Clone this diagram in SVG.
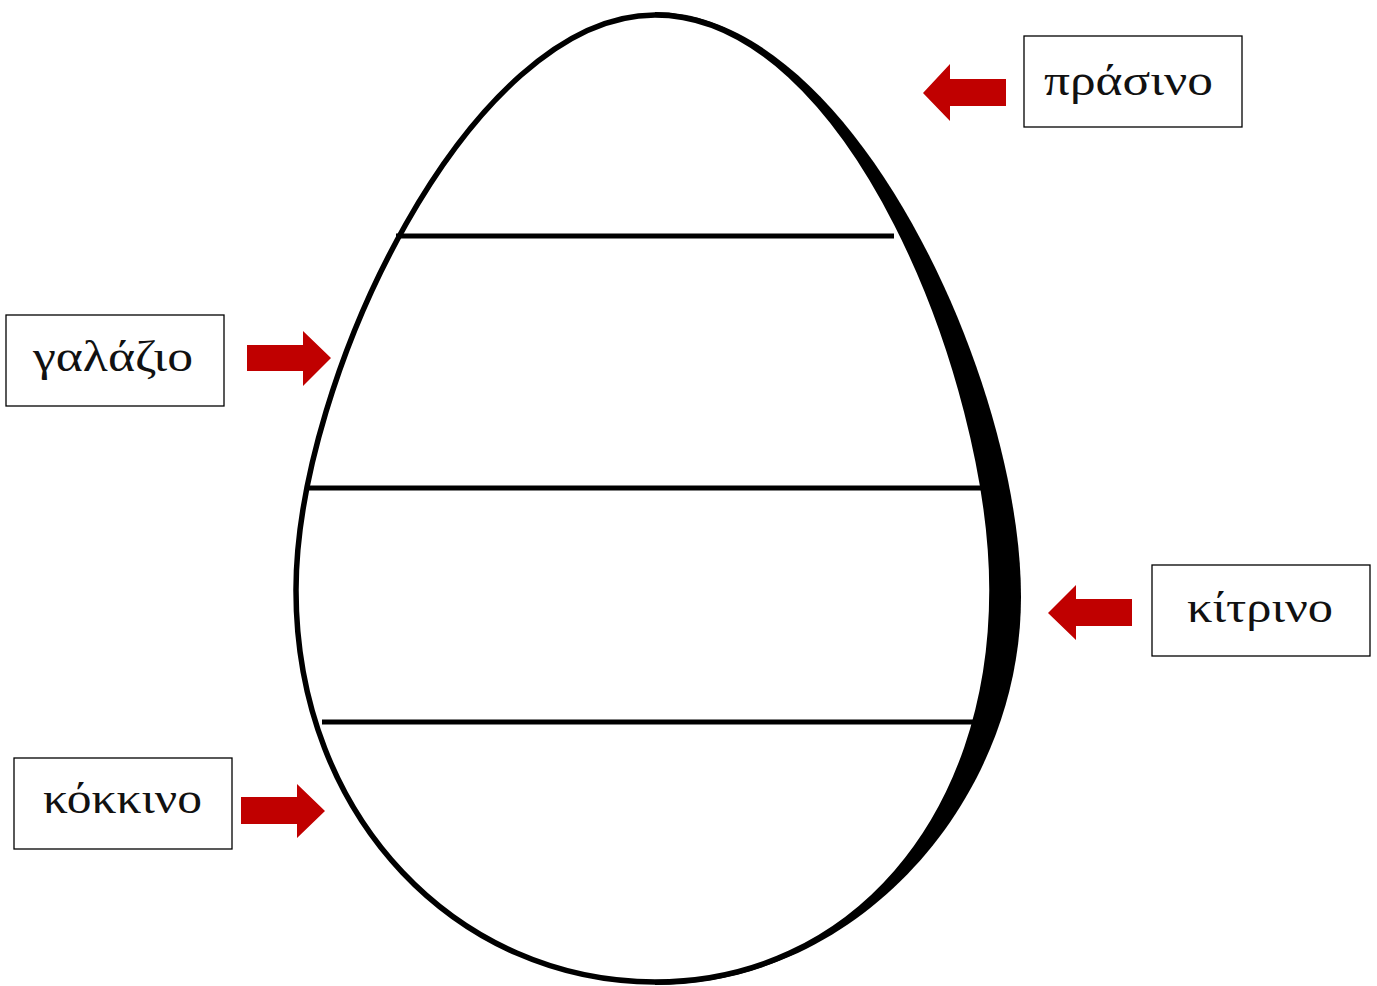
<svg xmlns="http://www.w3.org/2000/svg" width="1377" height="986" viewBox="0 0 1377 986">
<style>
.box{fill:#fff;stroke:#000;stroke-width:1.3}
.lbl{font-family:"Liberation Serif","DejaVu Serif",serif;font-size:44px;fill:#111}
.arrow{fill:#C00000}
.band{stroke:#000;stroke-width:5;fill:none}
</style>
<rect width="1377" height="986" fill="#fff"/>
<g id="egg">
<path d="M655,12 C852,12 1021,380 1021,597 C1021,800 858,985 655,985 Z" fill="#000"/>
<path d="M655,15 C470,15 296,380 296,590 C296,820 460,982 655,982 C850,982 992,820 992,590 C992,380 850,15 655,15 Z" fill="#fff" stroke="#000" stroke-width="5.5"/>
<line class="band" x1="396" y1="236" x2="894" y2="236"/>
<line class="band" x1="308" y1="488" x2="982" y2="488"/>
<line class="band" x1="322" y1="722" x2="978" y2="722"/>
</g>
<g id="connectors">
<polygon class="arrow" points="1006,79 950,79 950,64 923,93 950,121 950,106 1006,106"/>
<polygon class="arrow" points="247,345 303,345 303,331 331,358 303,386 303,371 247,371"/>
<polygon class="arrow" points="1132,599 1076,599 1076,585 1048,613 1076,640 1076,626 1132,626"/>
<polygon class="arrow" points="241,797 297,797 297,784 325,811 297,838 297,824 241,824"/>
</g>
<g id="prasino">
<rect class="box" x="1024" y="36" width="218" height="91"/>
<text class="lbl" x="1044" y="95" textLength="169" lengthAdjust="spacingAndGlyphs">πράσινο</text>
</g>
<g id="galazio">
<rect class="box" x="6" y="315" width="218" height="91"/>
<text class="lbl" x="33" y="371" textLength="160" lengthAdjust="spacingAndGlyphs">γαλάζιο</text>
</g>
<g id="kitrino">
<rect class="box" x="1152" y="565" width="218" height="91"/>
<text class="lbl" x="1187" y="622" textLength="146" lengthAdjust="spacingAndGlyphs">κίτρινο</text>
</g>
<g id="kokkino">
<rect class="box" x="14" y="758" width="218" height="91"/>
<text class="lbl" x="43" y="813" textLength="159" lengthAdjust="spacingAndGlyphs">κόκκινο</text>
</g>
</svg>
